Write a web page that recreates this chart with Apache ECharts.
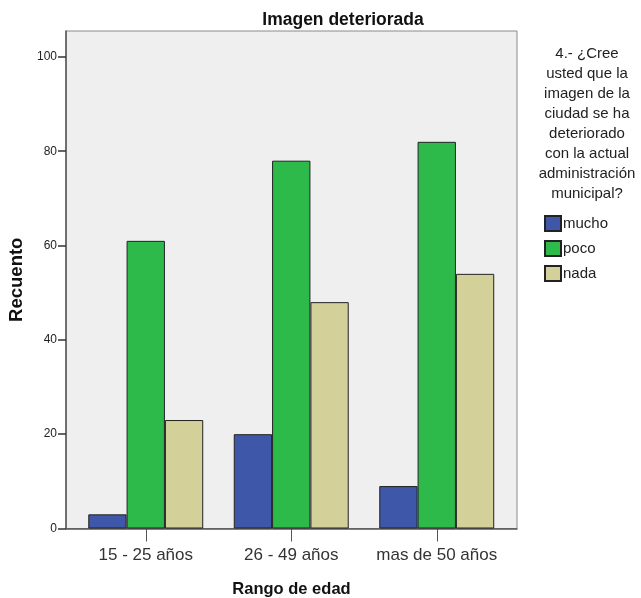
<!DOCTYPE html>
<html>
<head>
<meta charset="utf-8">
<script src="https://cdn.jsdelivr.net/npm/echarts@6/dist/echarts.min.js"></script>
<style>
html,body{margin:0;padding:0;background:#fff;}
#chart{width:641px;height:598px;}
</style>
</head>
<body>
<div id="chart"></div>
<script>
var categories = ['15 - 25 años', '26 - 49 años', 'mas de 50 años'];
var seriesNames = ['mucho', 'poco', 'nada'];
var mucho = [3, 20, 9];
var poco = [61, 78, 82];
var nada = [23, 48, 54];
var yTicks = [0, 20, 40, 60, 80, 100];
var chartTitle = 'Imagen deteriorada';
var legendTitle = '4.- ¿Cree\nusted que la\nimagen de la\nciudad se ha\ndeteriorado\ncon la actual\nadministración\nmunicipal?';
var xName = 'Rango de edad';
var yName = 'Recuento';

var colors = ['#3f57a9', '#2eb94b', '#d4d09a'];
var FONT = '"Liberation Sans", Arial, sans-serif';
var yMax = 105.5;

var chart = echarts.init(document.getElementById('chart'), null, {renderer: 'canvas'});
var values = [mucho, poco, nada];
var series = seriesNames.map(function (n, i) {
  return {
    name: n,
    type: 'bar',
    xAxisIndex: 1,
    yAxisIndex: 1,
    data: values[i],
    barGap: '0%',
    barCategoryGap: '21%',
    itemStyle: {color: colors[i], borderColor: '#222', borderWidth: 1},
    emphasis: {disabled: true},
    animation: false
  };
});

chart.setOption({
  backgroundColor: '#ffffff',
  animation: false,
  title: [
    {
      text: chartTitle, left: 338, top: 6, textAlign: 'center',
      textStyle: {fontFamily: FONT, fontSize: 17.5, fontWeight: 'bold', color: '#111'}
    },
    {
      text: legendTitle, left: 582, top: 39, textAlign: 'center',
      textStyle: {fontFamily: FONT, fontSize: 15, fontWeight: 'normal', color: '#222', lineHeight: 20}
    }
  ],
  legend: {
    data: seriesNames,
    orient: 'vertical',
    left: 544, top: 215,
    padding: 0,
    itemWidth: 16, itemHeight: 15, itemGap: 8,
    icon: 'rect',
    selectedMode: false,
    textStyle: {fontFamily: FONT, fontSize: 15, color: '#222', padding: [0, 0, 0, -3]}
  },
  grid: [
    {left: 66, right: 124, top: 31, bottom: 69.5, show: true, backgroundColor: '#efefef', borderColor: '#8a8a8a', borderWidth: 1, containLabel: false, outerBoundsMode: 'none'},
    {left: 73, right: 131.5, top: 31, bottom: 69.5, containLabel: false, outerBoundsMode: 'none'}
  ],
  xAxis: [
    {
      type: 'category', gridIndex: 0, data: categories,
      axisLine: {show: true, lineStyle: {color: '#555', width: 1.5}},
      axisTick: {show: false}, axisLabel: {show: false}, splitLine: {show: false},
      name: xName, nameLocation: 'middle', nameGap: 52,
      nameTextStyle: {fontFamily: FONT, fontSize: 16.5, fontWeight: 'bold', color: '#111'}
    },
    {
      type: 'category', gridIndex: 1, data: categories,
      axisLine: {show: false},
      axisTick: {show: true, alignWithLabel: true, interval: 0, length: 13, lineStyle: {color: '#555', width: 1}},
      axisLabel: {fontFamily: FONT, fontSize: 17, color: '#333', margin: 18, interval: 0, hideOverlap: false},
      splitLine: {show: false}
    }
  ],
  yAxis: [
    {
      type: 'value', gridIndex: 0, min: 0, max: yMax, interval: 20,
      axisLine: {show: true, lineStyle: {color: '#555', width: 1.5}},
      axisTick: {show: true, length: 8, lineStyle: {color: '#333', width: 1.5}, customValues: yTicks},
      axisLabel: {fontFamily: FONT, fontSize: 12, color: '#222', margin: 9, customValues: yTicks},
      splitLine: {show: false},
      name: yName, nameLocation: 'middle', nameGap: 35, nameRotate: 90,
      nameTextStyle: {fontFamily: FONT, fontSize: 18.5, fontWeight: 'bold', color: '#111'}
    },
    {
      type: 'value', gridIndex: 1, min: 0, max: yMax, interval: 20, show: false,
      splitLine: {show: false}
    }
  ],
  series: series
});
</script>
</body>
</html>
